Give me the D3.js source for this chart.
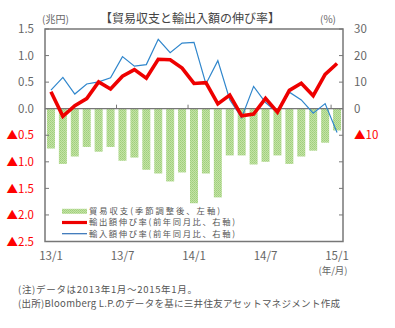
<!DOCTYPE html>
<html><head><meta charset="utf-8">
<script src="https://cdn.jsdelivr.net/npm/d3@7"></script>
<style>
html,body{margin:0;padding:0;background:#fff;}
svg{display:block;font-family:"Noto Sans CJK JP","Noto Sans",sans-serif;}
</style></head>
<body>
<svg id="chart" width="395" height="328"></svg>
<script>
const months = ["13/1","13/2","13/3","13/4","13/5","13/6","13/7","13/8","13/9","13/10","13/11","13/12",
"14/1","14/2","14/3","14/4","14/5","14/6","14/7","14/8","14/9","14/10","14/11","14/12","15/1"];
const tradeBalance = [-0.75,-1.04,-0.90,-0.72,-0.81,-0.72,-0.98,-0.92,-1.15,-1.22,-1.37,-1.20,
-1.78,-1.22,-1.67,-0.88,-0.88,-1.05,-1.00,-0.88,-1.04,-0.90,-0.79,-0.64,-0.41];
const exportGrowth = [6.4,-2.9,1.1,3.8,10.1,7.4,12.2,14.7,11.5,18.6,18.4,15.3,
9.5,9.8,1.8,5.1,-2.7,-2.0,3.9,-1.3,6.9,9.6,4.9,12.9,17.0];
const importGrowth = [7.0,11.8,5.5,9.3,10.1,11.6,19.6,16.0,16.6,26.1,21.1,24.7,
25.0,9.3,18.1,3.4,-3.4,8.4,2.3,-1.5,6.2,3.3,-1.7,1.9,-9.0];
const leftTicks = [1.5,1.0,0.5,0.0,-0.5,-1.0,-1.5,-2.0,-2.5];
const rightTicks = [30,20,10,0,-10,-20,-30,-40,-50];
const rightLabelled = [30,20,10,0,-10];
const xLabels = ["13/1","13/7","14/1","14/7","15/1"];
const legendItems = ["貿易収支(季節調整後、左軸)","輸出額伸び率(前年同月比、右軸)","輸入額伸び率(前年同月比、右軸)"];
const title = "【貿易収支と輸出入額の伸び率】";
const notes = ["(注)データは2013年1月～2015年1月。","(出所)Bloomberg L.P.のデータを基に三井住友アセットマネジメント作成"];

const svg = d3.select("#chart");
const L = 45, R = 343, T = 29, B = 241.5;
const gray = "#666", red = "#ff0000";

const x = d3.scaleBand().domain(months).range([L, R]).paddingInner(0.33).paddingOuter(0.165);
const xc = d => x(d) + x.bandwidth()/2;
const yL = d3.scaleLinear().domain([-2.5, 1.5]).range([B, T]);
const yR = d3.scaleLinear().domain([-50, 30]).range([B, T]);

// pattern for bars
const defs = svg.append("defs");
const pat = defs.append("pattern").attr("id","dots").attr("width",2).attr("height",2).attr("patternUnits","userSpaceOnUse");
pat.append("rect").attr("width",2).attr("height",2).attr("fill","#c4e3a6");
pat.append("rect").attr("width",1).attr("height",1).attr("fill","#9fcf7c");
pat.append("rect").attr("x",1).attr("y",1).attr("width",1).attr("height",1).attr("fill","#a9d486");

// bars
svg.append("g").selectAll("rect").data(tradeBalance).join("rect")
  .attr("x",(d,i)=>x(months[i]))
  .attr("width",x.bandwidth())
  .attr("y",d=>yL(Math.max(0,d)))
  .attr("height",d=>Math.abs(yL(d)-yL(0)))
  .attr("fill","url(#dots)");

// zero line
svg.append("line").attr("x1",L).attr("x2",R).attr("y1",yL(0)).attr("y2",yL(0)).attr("stroke","#777").attr("stroke-width",1.2);

// x ticks on zero line (every 6 months at band boundary)
const step = x.step();
[6,12,18,24].forEach(i=>{
  const xx = L + i*step;
  svg.append("line").attr("x1",xx).attr("x2",xx).attr("y1",yL(0)).attr("y2",yL(0)-4).attr("stroke","#777").attr("stroke-width",1);
});

// lines
const lineE = d3.line().x((d,i)=>xc(months[i])).y(d=>yR(d));
svg.append("path").datum(importGrowth).attr("d",lineE).attr("fill","none").attr("stroke","#2f86cc").attr("stroke-width",1.2);
svg.append("path").datum(exportGrowth).attr("d",lineE).attr("fill","none").attr("stroke","#ee0000").attr("stroke-width",3.6).attr("stroke-linejoin","miter");

// frame
svg.append("rect").attr("x",L).attr("y",T).attr("width",R-L).attr("height",B-T).attr("fill","none").attr("stroke","#777").attr("stroke-width",1.5);

// axis ticks (inside)
leftTicks.forEach(v=>{
  svg.append("line").attr("x1",L).attr("x2",L+4).attr("y1",yL(v)).attr("y2",yL(v)).attr("stroke","#777");
});
rightTicks.forEach(v=>{
  svg.append("line").attr("x1",R-4).attr("x2",R).attr("y1",yR(v)).attr("y2",yR(v)).attr("stroke","#777");
});

// left labels
const fmtL = v => (v<0 ? "▲" : "") + Math.abs(v).toFixed(1);
svg.append("g").selectAll("text").data(leftTicks).join("text")
  .attr("x",34).attr("y",d=>yL(d)).attr("dy","0.36em").attr("text-anchor","end")
  .attr("font-size",11.5).attr("fill",d=>d<0?red:gray).text(fmtL);
// right labels
svg.append("g").selectAll("text").data(rightLabelled).join("text")
  .attr("x",354).attr("y",d=>yR(d)).attr("dy","0.36em").attr("text-anchor","start")
  .attr("font-size",11.5).attr("fill",d=>d<0?red:gray).text(d=>(d<0?"▲":"")+Math.abs(d));

// x labels
svg.append("g").selectAll("text").data(xLabels).join("text")
  .attr("x",d=>xc(d)).attr("y",256).attr("dy","0.36em").attr("text-anchor","middle")
  .attr("font-size",11.5).attr("fill",gray).text(d=>d);
svg.append("text").attr("x",333).attr("y",270.5).attr("dy","0.36em").attr("text-anchor","middle")
  .attr("font-size",9.5).attr("fill",gray).text("(年/月)");

// units and title
svg.append("text").attr("x",42).attr("y",19).attr("dy","0.36em").attr("font-size",10).attr("fill",gray).text("(兆円)");
svg.append("text").attr("x",320).attr("y",19).attr("dy","0.36em").attr("font-size",10).attr("fill",gray).text("(%)");
svg.append("text").attr("x",190).attr("y",19).attr("dy","0.36em").attr("text-anchor","middle").attr("font-size",12).attr("fill","#444").text(title);

// legend
const lg = svg.append("g");
const ly = [211.3, 222.5, 233.7];
lg.append("rect").attr("x",62).attr("y",ly[0]-2.5).attr("width",25).attr("height",5).attr("fill","url(#dots)");
lg.append("line").attr("x1",62).attr("x2",87).attr("y1",ly[1]).attr("y2",ly[1]).attr("stroke","#ee0000").attr("stroke-width",3.2);
lg.append("line").attr("x1",62).attr("x2",87).attr("y1",ly[2]).attr("y2",ly[2]).attr("stroke","#2f6fb6").attr("stroke-width",1.2);
const lgW = [131, 146, 146];
lg.selectAll("text").data(legendItems).join("text")
  .attr("x",89).attr("y",(d,i)=>ly[i]).attr("dy","0.36em").attr("font-size",8.3)
  .attr("textLength",(d,i)=>lgW[i]).attr("lengthAdjust","spacing")
  .attr("fill","#555").text(d=>d);

// notes
const noteW = [179, 322];
svg.selectAll("text.note").data(notes).join("text").attr("class","note")
  .attr("x",18).attr("y",(d,i)=>290+i*13.5).attr("dy","0.36em")
  .attr("textLength",(d,i)=>noteW[i]).attr("lengthAdjust","spacing")
  .attr("font-size",9.5).attr("fill","#555").text(d=>d);
</script>
</body></html>
